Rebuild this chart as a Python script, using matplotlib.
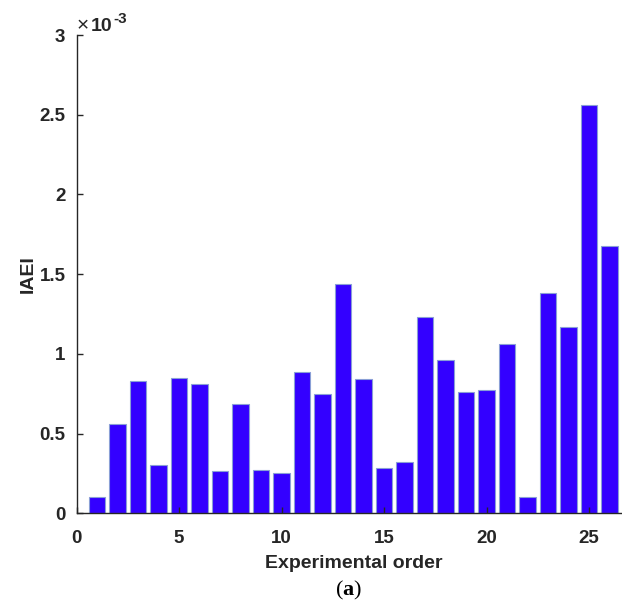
import matplotlib.pyplot as plt
import numpy as np

# IAEI per run, in units of 1e-3
order = np.arange(1, 27)
iaei_e3 = [0.100, 0.560, 0.830, 0.305, 0.847, 0.813, 0.265, 0.686, 0.270, 0.253,
           0.888, 0.750, 1.437, 0.841, 0.282, 0.320, 1.230, 0.962, 0.761, 0.776,
           1.060, 0.100, 1.384, 1.169, 2.560, 1.679]
xticks = [0, 5, 10, 15, 20, 25]
yticks = [0, 0.5, 1, 1.5, 2, 2.5, 3]
ytick_labels = ['0', '0.5', '1', '1.5', '2', '2.5', '3']

plt.rcParams['font.family'] = ['Liberation Sans', 'DejaVu Sans']
plt.rcParams['mathtext.fontset'] = 'custom'
plt.rcParams['mathtext.rm'] = 'Liberation Serif'
plt.rcParams['mathtext.bf'] = 'Liberation Serif:bold'

ink = '#262626'
W, H = 622, 609
fig = plt.figure(figsize=(W / 100, H / 100), dpi=100)
ax = fig.add_axes([0.123, 0.157, 0.89, 0.7855])

ax.bar(order, iaei_e3, width=0.8, color='#3300ff', edgecolor='#8a9fd6', linewidth=0.8)

ax.set_xlim(0, 27)
ax.set_ylim(0, 3)
ax.set_xticks(xticks)
ax.set_yticks(yticks)
ax.set_yticklabels(ytick_labels)
for s in ['top', 'right']:
    ax.spines[s].set_visible(False)
for s in ['left', 'bottom']:
    ax.spines[s].set_color(ink)
    ax.spines[s].set_linewidth(1.0)
ax.tick_params(direction='in', length=4, width=1.0, colors=ink, labelsize=13.5)
ax.tick_params(axis='x', pad=12)
ax.tick_params(axis='y', pad=8)
for lbl in ax.get_xticklabels() + ax.get_yticklabels():
    lbl.set_fontweight('bold')

ax.set_xlabel('Experimental order', fontsize=14, fontweight='bold', color=ink, labelpad=6)
ax.set_ylabel('IAEI', fontsize=14, fontweight='bold', color=ink, labelpad=2)

# exponent marker above the y axis
fig.text(77 / W, 1 - 31 / H, '\u00d7', fontsize=15, color=ink, va='baseline')
fig.text(91 / W, 1 - 31 / H, '10', fontsize=14, fontweight='bold', color=ink, va='baseline')
fig.text(113 / W, 1 - 23 / H, '-3', fontsize=11, fontweight='bold', color=ink, va='baseline')

fig.text(0.561, 0.031, r'$\mathrm{(}\mathbf{a}\mathrm{)}$', fontsize=16, ha='center', va='center')

fig.savefig('out.png', dpi=100)
